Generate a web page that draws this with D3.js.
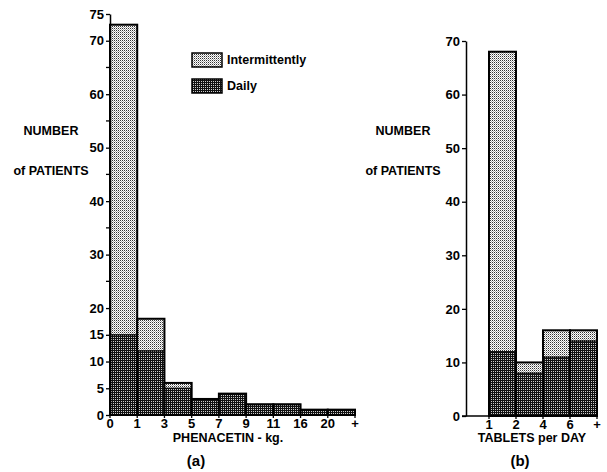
<!DOCTYPE html>
<html><head><meta charset="utf-8">
<script src="https://cdn.jsdelivr.net/npm/d3@7"></script>
<style>
body{margin:0;background:#fff;}
text{font-family:"Liberation Sans",Arial,sans-serif;font-weight:bold;fill:#000;}
</style></head>
<body><svg id="c" width="607" height="472"></svg>
<script>
// ---- data ----
const binLabelsA = ["0","1","3","5","7","9","11","16","20","+"];
const totalA = [73,18,6,3,4,2,2,1,1];
const dailyA = [15,12,5,3,4,2,2,1,1];
const yTicksA = [0,5,10,15,20,30,40,50,60,70,75];
const yMinorA = [25,35,45,55,65];

const binLabelsB = ["1","2","4","6","+"];
const totalB = [68,10,16,16];
const dailyB = [12,8,11,14];
const yTicksB = [0,10,20,30,40,50,60,70];

const seriesNames = ["Intermittently","Daily"];

const svg = d3.select("#c");
const defs = svg.append("defs");
// light stipple
const pl = defs.append("pattern").attr("id","light").attr("patternUnits","userSpaceOnUse").attr("width",2).attr("height",2);
pl.append("rect").attr("width",2).attr("height",2).attr("fill","#fff");
pl.append("rect").attr("x",0).attr("y",0).attr("width",1).attr("height",1).attr("fill","#333");
pl.append("rect").attr("x",1).attr("y",1).attr("width",1).attr("height",1).attr("fill","#aaa");
// dark
const pd = defs.append("pattern").attr("id","dark").attr("patternUnits","userSpaceOnUse").attr("width",2).attr("height",2);
pd.append("rect").attr("width",2).attr("height",2).attr("fill","#111");
pd.append("rect").attr("x",1).attr("y",1).attr("width",1).attr("height",1).attr("fill","#ccc");

function panel(o){
  const g = svg.append("g");
  const x = d3.scaleLinear().domain(o.xDomain).range(o.xRange);
  const y = d3.scaleLinear().domain([0,o.yMax]).range([o.y0,o.yTop]);
  // bars
  o.total.forEach((t,i)=>{
    const x0 = x(i+o.off), x1 = x(i+1+o.off);
    const d = o.daily[i];
    if(t>d) g.append("rect").attr("x",x0).attr("y",y(t)).attr("width",x1-x0).attr("height",y(d)-y(t)).attr("fill","url(#light)");
    g.append("rect").attr("x",x0).attr("y",y(d)).attr("width",x1-x0).attr("height",y(0)-y(d)).attr("fill","url(#dark)");
    g.append("line").attr("x1",x0).attr("x2",x1).attr("y1",y(d)).attr("y2",y(d)).attr("stroke","#000").attr("stroke-width",1.2);
    g.append("rect").attr("x",x0).attr("y",y(t)).attr("width",x1-x0).attr("height",y(0)-y(t))
      .attr("fill","none").attr("stroke","#000").attr("stroke-width",2);
  });
  // y axis
  const ya = d3.axisLeft(y).tickValues(o.yTicks).tickFormat(d3.format("d")).tickSize(4).tickSizeOuter(0);
  const ag = g.append("g").attr("transform",`translate(${o.axX},0)`).call(ya);
  ag.select(".domain").attr("stroke","#000").attr("stroke-width",1.5);
  ag.selectAll(".tick line").attr("stroke-width",1.3);
  ag.selectAll("text").style("font-size","13px").attr("dx","1");
  if(o.yMinor) o.yMinor.forEach(v=>g.append("line").attr("x1",o.axX-4).attr("x2",o.axX).attr("y1",y(v)).attr("y2",y(v)).attr("stroke","#000").attr("stroke-width",1.3));
  // x axis
  g.append("line").attr("x1",o.axX-(o.cross||0)).attr("x2",x(o.total.length+o.off)).attr("y1",y(0)).attr("y2",y(0)).attr("stroke","#000").attr("stroke-width",1.5);
  o.xLabels.forEach((l,i)=>{
    const xv = x(i+o.lblOff);
    g.append("line").attr("x1",xv).attr("x2",xv).attr("y1",y(0)).attr("y2",y(0)+3).attr("stroke","#000").attr("stroke-width",1.3);
    g.append("text").attr("x",xv).attr("y",y(0)+13).attr("text-anchor","middle").style("font-size","13px").text(l);
  });
  g.append("text").attr("x",o.xTitleX).attr("y",442).attr("text-anchor","middle").style("font-size","12.5px").text(o.xTitle);
  g.append("text").attr("x",o.capX).attr("y",466).attr("text-anchor","middle").style("font-size","15px").text(o.cap);
  g.append("text").attr("x",o.ylabX).attr("y",135).attr("text-anchor","middle").style("font-size","12.5px").text("NUMBER");
  g.append("text").attr("x",o.ylabX).attr("y",175).attr("text-anchor","middle").style("font-size","12.5px").text("of PATIENTS");
}

panel({xDomain:[0,9],xRange:[110,355],off:0,lblOff:0,yMax:75,y0:415,yTop:14,axX:110,
  total:totalA,daily:dailyA,yTicks:yTicksA,yMinor:yMinorA,xLabels:binLabelsA,
  xTitle:"PHENACETIN - kg.",xTitleX:228,cap:"(a)",capX:196,ylabX:51});
panel({xDomain:[0,5],xRange:[462,597],off:1,lblOff:1,yMax:70,y0:416,yTop:41,axX:466,cross:4,
  total:totalB,daily:dailyB,yTicks:yTicksB,xLabels:binLabelsB,
  xTitle:"TABLETS per DAY",xTitleX:532,cap:"(b)",capX:520,ylabX:403});

// legend
const lg = svg.append("g");
["light","dark"].forEach((p,i)=>{
  lg.append("rect").attr("x",192).attr("y",53+i*26).attr("width",30).attr("height",14)
    .attr("fill",`url(#${p})`).attr("stroke","#000").attr("stroke-width",1.5);
  lg.append("text").attr("x",227).attr("y",64+i*26).style("font-size","12.5px").text(seriesNames[i]);
});
</script></body></html>
